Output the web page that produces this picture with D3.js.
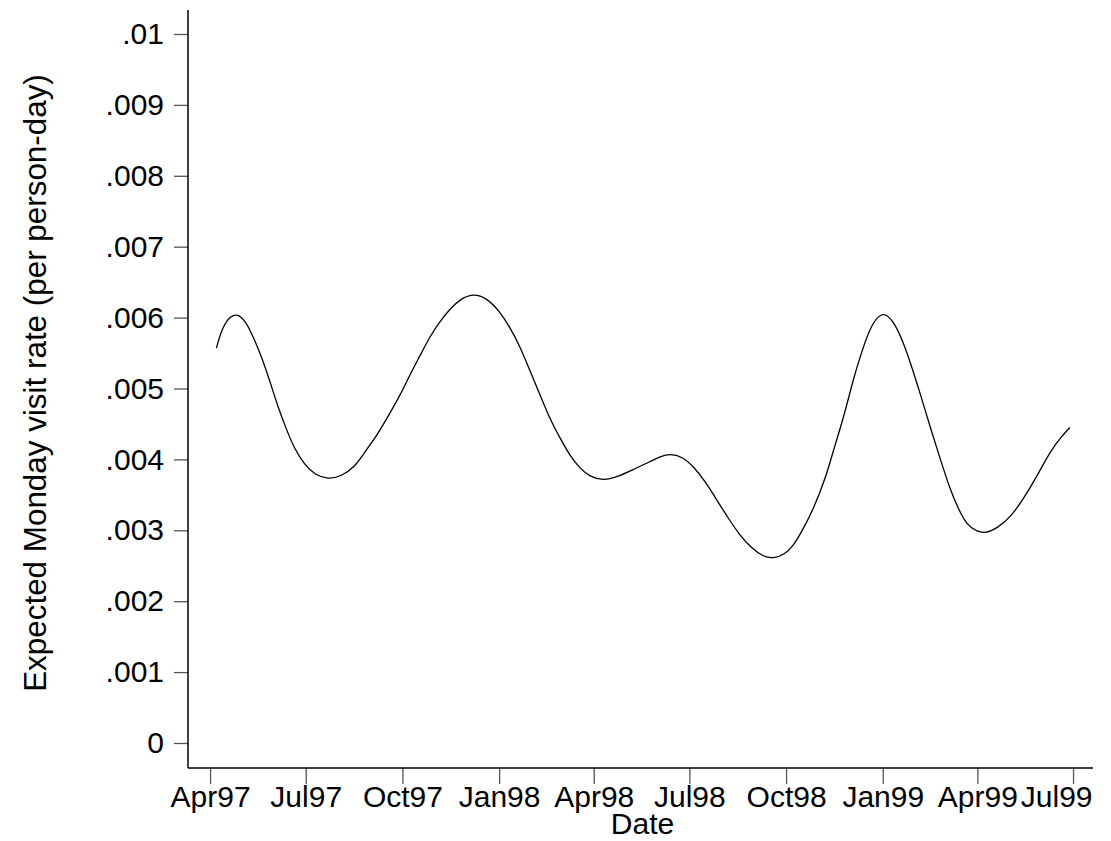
<!DOCTYPE html>
<html>
<head>
<meta charset="utf-8">
<script src="https://cdn.jsdelivr.net/npm/d3@7"></script>
<style>
  html, body { margin: 0; padding: 0; background: #fff; }
  svg { display: block; }
  text { font-family: "Liberation Sans", Arial, Helvetica, sans-serif; fill: #000; }
</style>
</head>
<body>
<svg id="chart" width="1111" height="841"></svg>
<script>
// Expected Monday visit rate by week
const dates = [
  "1997-04-07","1997-04-13","1997-04-21","1997-04-27","1997-05-05","1997-05-12","1997-05-20","1997-05-28",
  "1997-06-05","1997-06-13","1997-06-20","1997-06-30","1997-07-10","1997-07-22","1997-08-04","1997-08-17",
  "1997-08-25","1997-09-07","1997-09-19","1997-09-29","1997-10-08","1997-10-18","1997-10-27","1997-11-06",
  "1997-11-15","1997-11-25","1997-12-07","1997-12-20","1998-01-02","1998-01-11","1998-01-21","1998-01-30",
  "1998-02-09","1998-02-18","1998-02-28","1998-03-09","1998-03-19","1998-03-28","1998-04-10","1998-04-23",
  "1998-05-09","1998-05-25","1998-06-03","1998-06-13","1998-06-24","1998-07-05","1998-07-16","1998-07-27",
  "1998-08-07","1998-08-18","1998-08-29","1998-09-09","1998-09-19","1998-09-30","1998-10-08","1998-10-14",
  "1998-10-27","1998-11-09","1998-11-15","1998-11-25","1998-12-04","1998-12-12","1998-12-20","1998-12-28",
  "1999-01-03","1999-01-11","1999-01-19","1999-01-27","1999-02-06","1999-02-15","1999-02-25","1999-03-06",
  "1999-03-13","1999-03-22","1999-04-01","1999-04-09","1999-04-20","1999-05-03","1999-05-16","1999-05-29",
  "1999-06-10","1999-06-20","1999-06-28"
];
const rates = [
  0.00557,0.00588,0.00603,0.00605,0.00595,0.00573,0.00545,0.00510,
  0.00472,0.00441,0.00416,0.00392,0.00378,0.00372,0.00376,0.00390,
  0.00408,0.00434,0.00465,0.00491,0.00519,0.00547,0.00573,0.00595,
  0.00612,0.00626,0.00634,0.00628,0.00608,0.00587,0.00559,0.00526,
  0.00491,0.00458,0.00430,0.00406,0.00387,0.00376,0.00370,0.00375,
  0.00386,0.00397,0.00404,0.00408,0.00404,0.00390,0.00369,0.00343,
  0.00317,0.00293,0.00275,0.00263,0.00260,0.00266,0.00279,0.00293,
  0.00329,0.00380,0.00413,0.00460,0.00514,0.00552,0.00586,0.00603,
  0.00606,0.00595,0.00571,0.00538,0.00491,0.00446,0.00399,0.00358,
  0.00333,0.00307,0.00298,0.00296,0.00303,0.00319,0.00347,0.00380,
  0.00413,0.00432,0.00445
];
const xTickDates = ["1997-04-01","1997-07-01","1997-10-01","1998-01-01","1998-04-01",
                    "1998-07-01","1998-10-01","1999-01-01","1999-04-01","1999-07-01"];
const xTickLabels = ["Apr97","Jul97","Oct97","Jan98","Apr98","Jul98","Oct98","Jan99","Apr99","Jul99"];
const yTicks = [0,0.001,0.002,0.003,0.004,0.005,0.006,0.007,0.008,0.009,0.01];
const yTickLabels = ["0",".001",".002",".003",".004",".005",".006",".007",".008",".009",".01"];
const xTitle = "Date";
const yTitle = "Expected Monday visit rate (per person-day)";

const parse = d3.utcParse("%Y-%m-%d");
const data = dates.map((d, i) => ({ date: parse(d), rate: rates[i] }));

const svg = d3.select("#chart");

// plot region: axis lines run along the left and bottom edges
const plotLeft = 188, plotRight = 1093, plotTop = 10, plotBottom = 768;

const x = d3.scaleUtc()
  .domain([parse("1997-03-11"), parse("1999-07-20")])
  .range([plotLeft, plotRight]);

const y = d3.scaleLinear()
  .domain([0, 0.01])
  .range([743, 34]);

// x axis
const xAxis = d3.axisBottom(x)
  .tickValues(xTickDates.map(parse))
  .tickFormat((d, i) => xTickLabels[i])
  .tickSize(16)
  .tickSizeOuter(0)
  .tickPadding(4);

const gx = svg.append("g")
  .attr("transform", `translate(0,${plotBottom})`)
  .call(xAxis);
gx.select(".domain").remove();
gx.selectAll(".tick line").attr("stroke", "#555").attr("stroke-width", 1.3);
gx.selectAll(".tick text")
  .attr("font-size", 30)
  .attr("dy", "0.71em")
  .attr("y", 18)
  .style("font-family", "'Liberation Sans', Arial, sans-serif")
  .attr("fill", "#000");
// the last label is kept inside the right end of the axis
gx.selectAll(".tick text")
  .filter((d, i) => i === xTickLabels.length - 1)
  .attr("text-anchor", "end")
  .attr("x", plotRight - 1 - x(parse(xTickDates[xTickDates.length - 1])));

// y axis
const yAxis = d3.axisLeft(y)
  .tickValues(yTicks)
  .tickFormat((d, i) => yTickLabels[i])
  .tickSize(14)
  .tickSizeOuter(0)
  .tickPadding(10);

const gy = svg.append("g")
  .attr("transform", `translate(${plotLeft},0)`)
  .call(yAxis);
gy.select(".domain").remove();
gy.selectAll(".tick line").attr("stroke", "#555").attr("stroke-width", 1.3);
gy.selectAll(".tick text")
  .attr("font-size", 30)
  .style("font-family", "'Liberation Sans', Arial, sans-serif")
  .attr("fill", "#000");

// axis lines
svg.append("line")
  .attr("x1", plotLeft).attr("x2", plotLeft)
  .attr("y1", plotTop).attr("y2", plotBottom)
  .attr("stroke", "#000").attr("stroke-width", 1.5);
svg.append("line")
  .attr("x1", plotLeft).attr("x2", plotRight)
  .attr("y1", plotBottom).attr("y2", plotBottom)
  .attr("stroke", "#000").attr("stroke-width", 1.5);

// axis titles
svg.append("text")
  .attr("x", (plotLeft + plotRight) / 2 + 2)
  .attr("y", 834)
  .attr("text-anchor", "middle")
  .attr("font-size", 30)
  .text(xTitle);

svg.append("text")
  .attr("transform", "translate(46,383) rotate(-90)")
  .attr("text-anchor", "middle")
  .attr("font-size", 31.4)
  .text(yTitle);

// rate curve
const line = d3.line()
  .x(d => x(d.date))
  .y(d => y(d.rate))
  .curve(d3.curveBasis);

svg.append("path")
  .datum(data)
  .attr("fill", "none")
  .attr("stroke", "#000")
  .attr("stroke-width", 1.3)
  .attr("d", line);
</script>
</body>
</html>
